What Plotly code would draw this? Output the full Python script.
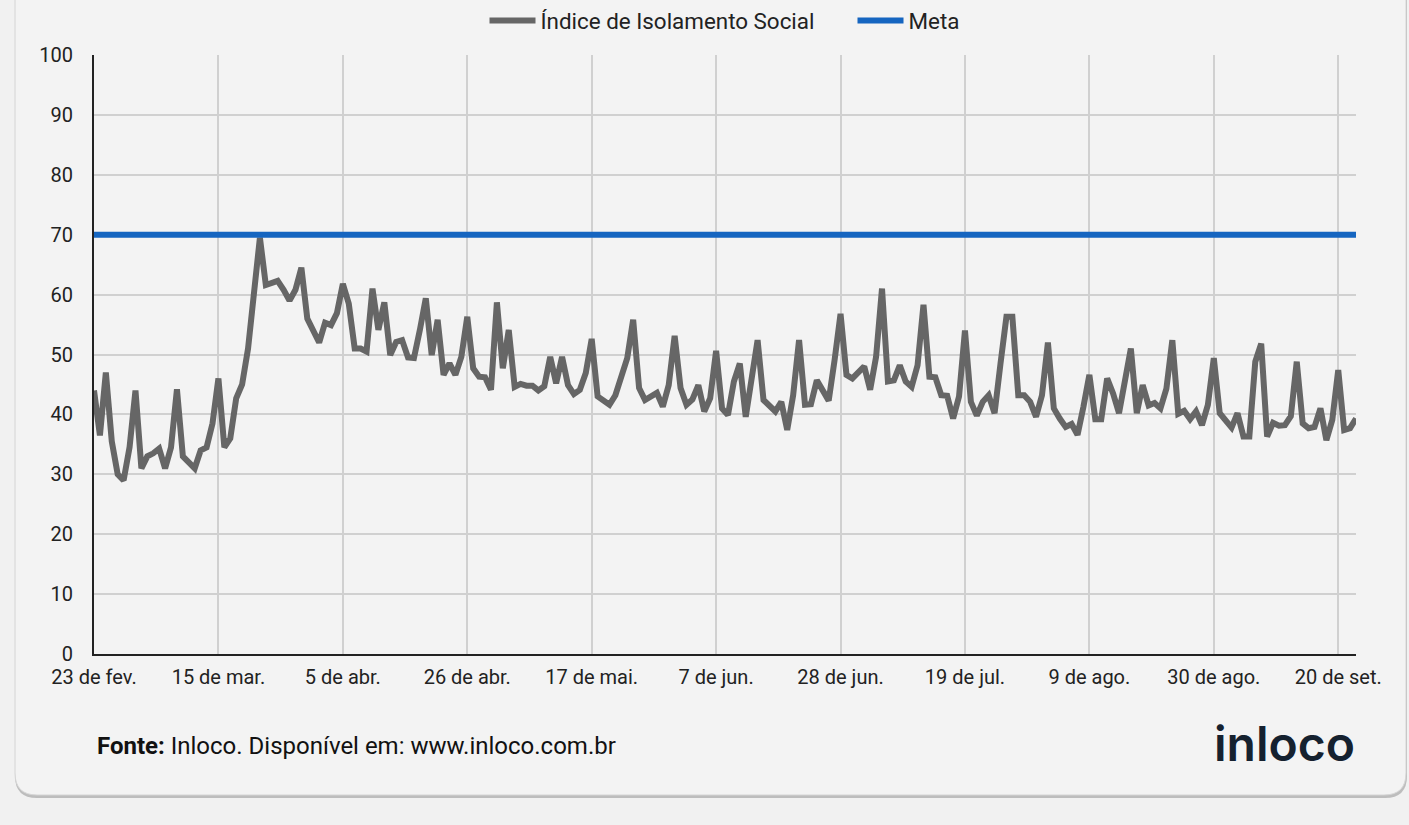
import plotly.graph_objects as go
import pandas as pd

# ---------------- data ----------------
start_date = "2020-02-23"

isolamento_a = [44, 36.5, 47, 35.5, 30, 29, 34.5, 44, 31, 33,
                33.5, 34.3, 31, 34.5, 44.2, 33, 32, 31, 34, 34.5,
                38.5, 46, 34.5, 36, 42.7, 45, 51, 61, 69.5, 61.6,
                62, 62.3, 60.8, 59, 60.8, 64.5, 56, 54, 52]
isolamento_b = [55.3, 54.9, 56.9, 61.8, 58.5, 51, 51, 50.5, 61, 54.1,
                58.7, 49.9, 52.1, 52.4, 49.5, 49.4, 54.1, 59.4, 49.9, 55.8,
                46.6, 48.5, 46.6, 49.6, 56.3, 47.7, 46.3, 46.2, 44.1, 58.7,
                47.7, 54.1, 44.6, 45.1, 44.8, 44.8, 44]
isolamento_c = [44.7, 49.6, 45.2, 49.6, 44.9, 43.4, 44.1, 46.9, 52.6, 43,
                42.4, 41.6, 43.2, 46.6, 49.4, 55.8, 44.4, 42.4, 43.1, 43.6,
                41.3, 44.9, 53.1, 44.4, 41.6, 42.5, 44.9, 40.5, 42.7, 50.6,
                41, 39.9, 45.5, 48.5, 39.6, 46.8, 52.4]
isolamento_d = [42.4, 41.4, 40.5, 42.1, 37.4, 43.2, 52.4, 41.6, 41.7, 45.7,
                43.8, 42.3, 49.1, 56.8, 46.6, 46, 47, 48, 44.1, 49.6,
                61, 45.5, 45.7, 48.2, 45.5, 44.6, 48.2, 58.3, 46.3, 46.2,
                43.2, 43.1, 39.3, 43, 54, 42.1, 39.8]
isolamento_e = [42.1, 43.2, 40.2, 48.5, 56.3, 56.3, 43.2, 43.2, 42.1, 39.6,
                43.2, 52, 41, 39.3, 37.9, 38.4, 36.6, 41.3, 46.6, 39.2,
                39.2, 46, 43.5, 40.2, 46, 51, 40.2, 44.9, 41.5, 41.9,
                41, 44.3, 52.4, 40.1, 40.6, 39.2, 40.5]
isolamento_f = [38.2, 41.6, 49.4, 40.2, 38.8, 37.8, 40.2, 36.3, 36.3, 48.8,
                51.8, 36.3, 38.6, 38.1, 38.2, 39.7, 48.8, 38.5, 37.7, 37.9,
                41, 35.7, 39.1, 47.4, 37.4, 37.7, 39.3]

meta_value = 70

tick_dates = ["2020-02-23", "2020-03-15", "2020-04-05", "2020-04-26", "2020-05-17",
              "2020-06-07", "2020-06-28", "2020-07-19", "2020-08-09", "2020-08-30",
              "2020-09-20"]
tick_labels = ["23 de fev.", "15 de mar.", "5 de abr.", "26 de abr.", "17 de mai.",
               "7 de jun.", "28 de jun.", "19 de jul.", "9 de ago.", "30 de ago.",
               "20 de set."]

isolamento = (isolamento_a + isolamento_b + isolamento_c +
              isolamento_d + isolamento_e + isolamento_f)
dates = pd.date_range(start_date, periods=len(isolamento), freq="D")
meta = [meta_value] * len(dates)

# ---------------- figure ----------------
W, H = 1409, 825
ML, MR, MT, MB = 94, 53, 55, 171
PW, PH = W - ML - MR, H - MT - MB
FONT = "Roboto, 'Noto Sans', sans-serif"


def px(x):
    return (x - ML) / PW


def py(y):
    return (H - MB - y) / PH


def rounded_rect(x0, y0, x1, y1, r):
    X0, X1 = px(x0), px(x1)
    Y0, Y1 = py(y0), py(y1)
    rx, ry = r / PW, r / PH
    return (f"M {X0},{Y0} L {X1},{Y0} L {X1},{Y1 + ry} "
            f"Q {X1},{Y1} {X1 - rx},{Y1} L {X0 + rx},{Y1} "
            f"Q {X0},{Y1} {X0},{Y1 + ry} Z")


fig = go.Figure()
fig.add_trace(go.Scatter(
    x=dates, y=isolamento, mode="lines", name="Índice de Isolamento Social",
    line=dict(color="#666666", width=6), hoverinfo="x+y"))
fig.add_trace(go.Scatter(
    x=dates, y=meta, mode="lines", name="Meta",
    line=dict(color="#1565c0", width=6), hoverinfo="x+y"))

shapes = [
    dict(type="path", xref="paper", yref="paper", layer="below",
         path=rounded_rect(15, -40, 1407, 798, 22),
         fillcolor="#bdbdbd", line=dict(width=0)),
    dict(type="path", xref="paper", yref="paper", layer="below",
         path=rounded_rect(15, -40, 1406, 795, 22),
         fillcolor="#f3f3f3", line=dict(color="#d4d4d4", width=1)),
]

annotations = [
    dict(xref="paper", yref="paper", x=px(95), y=py(746), xanchor="left",
         yanchor="middle", showarrow=False,
         text="<b>Fonte:</b> Inloco. Disponível em: www.inloco.com.br",
         font=dict(family=FONT, size=24, color="#111111")),
    dict(xref="paper", yref="paper", x=px(1357), y=py(743), xanchor="right",
         yanchor="middle", showarrow=False,
         text="inloco",
         font=dict(family="Inter, 'Noto Sans', sans-serif", size=48,
                   weight=600, color="#15212f")),
]

fig.update_layout(
    width=W, height=H,
    margin=dict(l=ML, r=MR, t=MT, b=MB, pad=0, autoexpand=False),
    paper_bgcolor="#f1f1f1",
    plot_bgcolor="rgba(0,0,0,0)",
    font=dict(family=FONT, size=20, color="#222222"),
    showlegend=True,
    legend=dict(orientation="h", xref="container", yref="container",
                x=484.5 / W, xanchor="left", y=1 - 21 / H, yanchor="middle",
                bgcolor="rgba(0,0,0,0)",
                font=dict(family=FONT, size=22.4, color="#222222"),
                itemwidth=46, tracegroupgap=0, entrywidth=307),
    shapes=shapes,
    annotations=annotations,
    xaxis=dict(
        type="date",
        range=[dates[0], dates[-1]],
        tickvals=tick_dates, ticktext=tick_labels,
        showgrid=True, gridcolor="#d0d0d0", gridwidth=2,
        showline=True, linecolor="#222222", linewidth=2,
        ticks="outside", ticklen=4, tickcolor="rgba(0,0,0,0)",
        tickfont=dict(family=FONT, size=20, color="#222222"),
        zeroline=False, fixedrange=True),
    yaxis=dict(
        range=[0, 100], tickvals=list(range(0, 101, 10)),
        showgrid=True, gridcolor="#d0d0d0", gridwidth=2,
        showline=True, linecolor="#222222", linewidth=2,
        ticks="outside", ticklen=15, tickcolor="rgba(0,0,0,0)",
        tickfont=dict(family=FONT, size=20, color="#222222"),
        zeroline=False, fixedrange=True),
    hovermode="x unified",
)

fig.write_html(
    "out.html",
    config={"displayModeBar": False},
    post_script="document.body.style.margin='0';"
                "document.body.style.background='#f1f1f1';"
                "document.body.style.overflow='hidden';",
)
